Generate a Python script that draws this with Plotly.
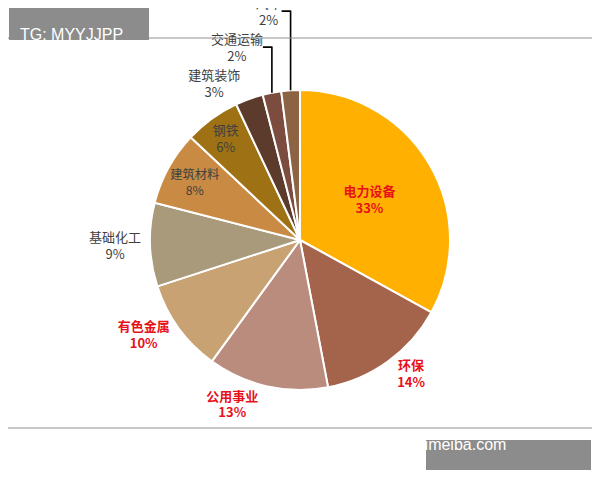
import plotly.graph_objects as go

sectors = ["电力设备", "环保", "公用事业", "有色金属", "基础化工", "建筑材料", "钢铁", "建筑装饰", "交通运输", "汽车"]
shares = [33, 14, 13, 10, 9, 8, 6, 3, 2, 2]
colors = ["#FFB000", "#A4644C", "#B98C7E", "#C9A274", "#A89A7A",
          "#C98A44", "#9E7214", "#5C3A2C", "#7C4C3E", "#8C6444"]
highlight = {"电力设备", "环保", "公用事业", "有色金属"}
inside = {"电力设备", "钢铁", "建筑材料"}

text_colors = ["#E8101A" if s in highlight else "#404040" for s in sectors]
texts = [f"<b>{s}<br>{v}%</b>" if s in highlight else f"{s}<br>{v}%"
         for s, v in zip(sectors, shares)]
positions = ["inside" if s in inside else "outside" for s in sectors]

# page body has an 8px margin, so map reference pixels into the figure
W, H = 584, 464


def px(x):
    return (x - 8) / W


def py(y):
    return 1 - (y - 8) / H


font = dict(color=text_colors, size=13, family="Noto Sans CJK SC")
fig = go.Figure(go.Pie(
    labels=sectors, values=shares, sort=False, direction="clockwise", rotation=0,
    marker=dict(colors=colors, line=dict(color="white", width=2)),
    text=texts, textinfo="text", textposition=positions,
    insidetextorientation="horizontal",
    textfont=font, outsidetextfont=font, insidetextfont=font,
    automargin=False, showlegend=False,
    domain=dict(x=[px(150), px(450)], y=[py(390), py(90)]),
))

fig.update_layout(
    width=W, height=H, margin=dict(l=0, r=0, t=0, b=0),
    paper_bgcolor="white", plot_bgcolor="white",
    shapes=[
        dict(type="rect", xref="paper", yref="paper", x0=px(3), x1=px(597),
             y0=py(428), y1=py(38), line=dict(color="#909090", width=1)),
        dict(type="rect", xref="paper", yref="paper", x0=px(9), x1=px(149),
             y0=py(40), y1=py(8), fillcolor="#8C8C8C", line=dict(width=0)),
        dict(type="rect", xref="paper", yref="paper", x0=px(426), x1=px(591),
             y0=py(470), y1=py(440), fillcolor="#8C8C8C", line=dict(width=0)),
    ],
    annotations=[
        dict(text="TG: MYYJJPP", xref="paper", yref="paper", x=px(18), y=py(24),
             xanchor="left", showarrow=False,
             font=dict(color="white", size=16, family="Liberation Sans")),
        dict(text="www.umeiba.com", xref="paper", yref="paper", x=px(508), y=py(455),
             showarrow=False,
             font=dict(color="white", size=16, family="Liberation Sans")),
    ],
)

fig.write_html("out.html")
